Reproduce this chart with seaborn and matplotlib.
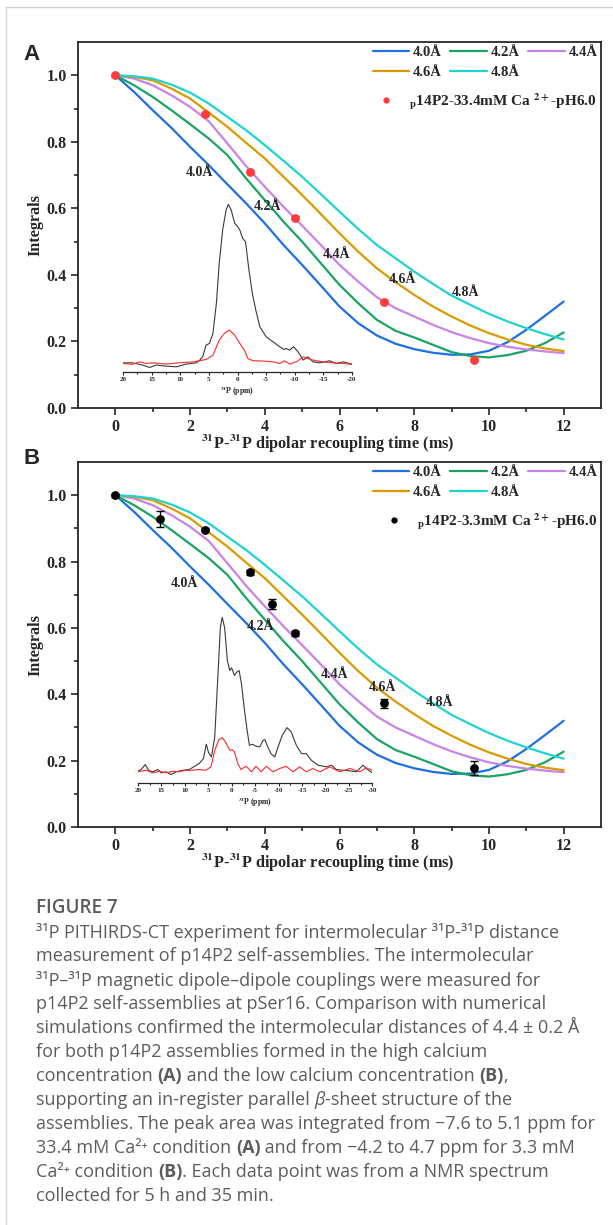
import matplotlib
matplotlib.use("Agg")
from matplotlib import pyplot as plt
from matplotlib.lines import Line2D
import seaborn as sns
import pandas as pd

# simulated PITHIRDS-CT curves, same in both panels
time_ms = [0, 0.5, 1, 1.5, 2, 2.5, 3, 3.5, 4, 4.5, 5, 5.5, 6, 6.5, 7, 7.5, 8, 8.5, 9, 9.5, 10, 10.5, 11, 11.5, 12]
curve_40 = [1.0, 0.95, 0.895, 0.842, 0.785, 0.73, 0.672, 0.615, 0.555, 0.49, 0.43, 0.368, 0.305, 0.255,
            0.218, 0.193, 0.177, 0.166, 0.16, 0.161, 0.172, 0.198, 0.235, 0.277, 0.32]
curve_42 = [1.0, 0.97, 0.935, 0.895, 0.853, 0.81, 0.76, 0.69, 0.625, 0.56, 0.5, 0.435, 0.37, 0.315,
            0.265, 0.232, 0.212, 0.19, 0.168, 0.156, 0.152, 0.159, 0.172, 0.195, 0.227]
curve_44 = [1.0, 0.99, 0.97, 0.94, 0.905, 0.862, 0.795, 0.727, 0.665, 0.605, 0.548, 0.49, 0.43, 0.38,
            0.333, 0.3, 0.275, 0.25, 0.228, 0.21, 0.195, 0.184, 0.176, 0.17, 0.165]
curve_46 = [1.0, 0.995, 0.985, 0.96, 0.93, 0.888, 0.845, 0.797, 0.75, 0.695, 0.64, 0.583, 0.525, 0.47,
            0.42, 0.378, 0.34, 0.305, 0.275, 0.248, 0.225, 0.206, 0.19, 0.179, 0.171]
curve_48 = [1.0, 0.997, 0.99, 0.972, 0.948, 0.915, 0.875, 0.835, 0.79, 0.743, 0.695, 0.643, 0.59, 0.538,
            0.49, 0.45, 0.41, 0.373, 0.338, 0.31, 0.283, 0.26, 0.24, 0.222, 0.206]
curve_names = ['4.0Å', '4.2Å', '4.4Å', '4.6Å', '4.8Å']
curve_colors = ['#1f6fe0', '#19a463', '#c983e8', '#dc9a00', '#1fd2d4']

# measured points
a_time = [0, 2.4, 3.6, 4.8, 7.2, 9.6]
a_integral = [1.0, 0.885, 0.71, 0.572, 0.32, 0.145]
a_err = [0.004, 0.004, 0.004, 0.004, 0.004, 0.004]
b_time = [0, 1.2, 2.4, 3.6, 4.2, 4.8, 7.2, 9.6]
b_integral = [1.0, 0.929, 0.896, 0.768, 0.672, 0.584, 0.373, 0.178]
b_err = [0.004, 0.024, 0.005, 0.008, 0.015, 0.008, 0.013, 0.02]

# curve label positions (time, integral)
a_label_pos = [(2.25, 0.708), (4.08, 0.605), (5.93, 0.462), (7.68, 0.387), (9.37, 0.347)]
b_label_pos = [(1.85, 0.734), (3.89, 0.604), (5.87, 0.459), (7.15, 0.421), (8.68, 0.376)]

# inset spectra (ppm, normalised intensity)
a_ppm_black = [20, 18.4, 16.6, 15.4, 14.2, 12.5, 10.7, 9.0, 7.2, 6.7, 6.1, 5.5, 4.9, 4.3, 3.7, 3.2, 2.6, 2.0,
               1.6, 1.1, 0.5, 0.05, -0.4, -0.9, -1.4, -2.0, -2.6, -3.2, -3.9, -5.0, -6.2, -7.4, -8.1, -8.5,
               -9.1, -9.8, -10.6, -11.5, -12.3, -13.2, -14.4, -16.1, -17.3, -18.5, -20]
a_int_black = [0.004, 0.004, -0.01, -0.025, -0.01, -0.017, -0.021, -0.004, 0.004, 0.017, 0.042, 0.115, 0.126,
               0.189, 0.377, 0.629, 0.839, 0.964, 1.0, 0.964, 0.881, 0.864, 0.839, 0.786, 0.765, 0.587, 0.44,
               0.335, 0.231, 0.168, 0.136, 0.105, 0.088, 0.094, 0.084, 0.105, 0.073, 0.021, 0.042, 0.01,
               0.004, 0.017, 0.0, 0.01, -0.004]
a_ppm_red = [20, 18.4, 17.2, 16.0, 14.8, 12.5, 10.2, 7.8, 6.7, 5.5, 4.3, 3.2, 2.3, 1.4, 0.5, -0.4, -1.2, -1.8,
             -2.7, -4.5, -6.2, -7.4, -8.2, -9.1, -10.3, -11.5, -12.3, -13.2, -14.9, -16.7, -18.5, -20]
a_int_red = [0.0, -0.006, 0.01, 0.0, 0.004, -0.004, 0.004, 0.01, 0.017, 0.025, 0.052, 0.147, 0.189, 0.21,
             0.178, 0.126, 0.084, 0.031, 0.017, 0.015, 0.01, 0.0, 0.017, -0.004, 0.01, 0.042, 0.031, 0.021,
             0.01, 0.004, 0.0, -0.006]
b_ppm_black = [20, 19.3, 18.4, 17.7, 16.8, 15.7, 15.0, 14.0, 12.9, 11.8, 10.4, 9.0, 7.9, 6.9, 6.0, 5.4, 4.9,
               4.3, 3.6, 2.9, 2.4, 2.0, 1.5, 0.9, 0.4, 0.0, -0.6, -1.1, -1.6, -2.1, -2.7, -3.3, -3.8, -4.5,
               -5.2, -6.0, -6.7, -7.1, -7.7, -8.4, -9.2, -9.9, -10.8, -11.8, -12.7, -13.8, -14.9, -15.9,
               -17.0, -18.4, -20.2, -21.3, -22.3, -23.7, -25.2, -26.6, -28.0, -28.7, -30]
b_int_black = [0.0, 0.011, 0.043, 0.006, -0.004, 0.011, -0.011, -0.004, -0.022, -0.004, 0.006, 0.011, 0.032,
               0.05, 0.082, 0.175, 0.119, 0.093, 0.222, 0.633, 0.935, 1.0, 0.935, 0.719, 0.654, 0.672, 0.622,
               0.644, 0.654, 0.568, 0.406, 0.266, 0.168, 0.175, 0.162, 0.158, 0.201, 0.205, 0.158, 0.114,
               0.093, 0.158, 0.233, 0.283, 0.255, 0.168, 0.114, 0.114, 0.071, 0.039, 0.028, 0.039, 0.011,
               0.006, 0.002, -0.004, 0.039, 0.017, -0.011]
b_ppm_red = [20, 18.2, 16.8, 15.4, 14.0, 12.6, 11.2, 9.8, 8.4, 7.0, 5.5, 4.4, 3.6, 2.7, 2.0, 1.3, 0.4, -0.1,
             -0.6, -1.3, -2.0, -3.1, -4.2, -5.2, -6.3, -7.4, -8.8, -10.2, -11.6, -13.1, -14.5, -15.9, -17.3,
             -18.8, -20.9, -23.0, -25.2, -27.3, -28.7, -30]
b_int_red = [-0.004, 0.006, -0.011, 0.0, -0.011, 0.0, -0.004, 0.006, 0.006, 0.011, 0.006, 0.028, 0.136, 0.205,
             0.218, 0.19, 0.136, 0.14, 0.125, 0.05, 0.011, 0.032, -0.004, 0.032, -0.004, 0.032, -0.004, 0.017,
             0.032, -0.004, 0.028, -0.004, 0.017, -0.004, 0.028, -0.004, 0.017, -0.004, 0.022, 0.006]
a_ppm_ticks = [20, 15, 10, 5, 0, -5, -10, -15, -20]
b_ppm_ticks = [20, 15, 10, 5, 0, -5, -10, -15, -20, -25, -30]

caption_title = 'FIGURE 7'
caption_lines = [
    [('³¹P PITHIRDS-CT experiment for intermolecular ³¹P-³¹P distance', 'normal', 'normal')],
    [('measurement of p14P2 self-assemblies. The intermolecular', 'normal', 'normal')],
    [('³¹P–³¹P magnetic dipole–dipole couplings were measured for', 'normal', 'normal')],
    [('p14P2 self-assemblies at pSer16. Comparison with numerical', 'normal', 'normal')],
    [('simulations confirmed the intermolecular distances of 4.4 ± 0.2 Å', 'normal', 'normal')],
    [('for both p14P2 assemblies formed in the high calcium', 'normal', 'normal')],
    [('concentration ', 'normal', 'normal'), ('(A)', 'bold', 'normal'),
     (' and the low calcium concentration ', 'normal', 'normal'), ('(B)', 'bold', 'normal'),
     (',', 'normal', 'normal')],
    [('supporting an in-register parallel ', 'normal', 'normal'), ('β', 'normal', 'italic'),
     ('-sheet structure of the', 'normal', 'normal')],
    [('assemblies. The peak area was integrated from −7.6 to 5.1 ppm for', 'normal', 'normal')],
    [('33.4 mM Ca²⁺ condition ', 'normal', 'normal'), ('(A)', 'bold', 'normal'),
     (' and from −4.2 to 4.7 ppm for 3.3 mM', 'normal', 'normal')],
    [('Ca²⁺ condition ', 'normal', 'normal'), ('(B)', 'bold', 'normal'),
     ('. Each data point was from a NMR spectrum', 'normal', 'normal')],
    [('collected for 5 h and 35 min.', 'normal', 'normal')],
]

sns.set_style('ticks')
plt.rcParams['font.family'] = ['Liberation Serif', 'DejaVu Serif']
plt.rcParams['font.weight'] = 'bold'
plt.rcParams['mathtext.fontset'] = 'stix'
plt.rcParams['axes.unicode_minus'] = False

W, H = 613, 1225
fig = plt.figure(figsize=(W / 100, H / 100), dpi=100)

curves = pd.DataFrame({'time': time_ms * 5,
                       'integral': curve_40 + curve_42 + curve_44 + curve_46 + curve_48,
                       'dist': [n for n in curve_names for _ in time_ms]})


def panel(top_px, bottom_px, letter, letter_y, pts_t, pts_v, pts_e, pt_color, pt_label, label_pos,
          ppm_k, int_k, ppm_r, int_r, ppm_ticks, inset_box):
    ax = fig.add_axes([78 / W, 1 - bottom_px / H, 523 / W, (bottom_px - top_px) / H])
    sns.lineplot(data=curves, x='time', y='integral', hue='dist', palette=curve_colors,
                 linewidth=1.6, ax=ax, legend=False)
    ax.errorbar(pts_t, pts_v, yerr=pts_e, fmt='none', ecolor=pt_color, elinewidth=1.0, capsize=3, zorder=4)
    sns.scatterplot(x=pts_t, y=pts_v, color=pt_color, s=40, edgecolor=pt_color, linewidth=0, ax=ax, zorder=5)
    ax.set_xlim(-1, 13)
    ax.set_ylim(0, 1.1)
    ax.set_xticks(range(0, 13, 2))
    ax.set_xticks(range(1, 13, 2), minor=True)
    ax.set_yticks([0, 0.2, 0.4, 0.6, 0.8, 1.0])
    ax.set_yticks([0.1, 0.3, 0.5, 0.7, 0.9], minor=True)
    ax.set_yticklabels(['0.0', '0.2', '0.4', '0.6', '0.8', '1.0'])
    ax.tick_params(which='major', length=5, width=1.2, labelsize=11.5, pad=3)
    ax.tick_params(which='minor', length=3, width=1.2)
    for s in ax.spines.values():
        s.set_linewidth(1.3)
        s.set_visible(True)
    ax.set_xlabel(r'$^{\mathbf{31}}$P-$^{\mathbf{31}}$P dipolar recoupling time (ms)', fontsize=11.7,
                  weight='bold')
    ax.xaxis.set_label_coords(0.478, -0.098)
    ax.xaxis.label.set_va('center')
    ax.set_ylabel('Integrals', fontsize=11.7, weight='bold')
    ax.yaxis.set_label_coords(-0.082, 0.5)
    ax.yaxis.label.set_va('center')
    for name, (lx, ly) in zip(curve_names, label_pos):
        ax.text(lx, ly, name, ha='center', va='center', fontsize=10, weight='bold')

    lines = ax.get_lines()[:5]
    order = [0, 3, 1, 4, 2]
    leg = ax.legend([lines[i] for i in order], [curve_names[i] for i in order], ncol=3, loc='upper right',
                    bbox_to_anchor=(1.004, 1.006), frameon=False, handlelength=2.5, handletextpad=0.25,
                    columnspacing=0.6, labelspacing=0.45, borderaxespad=0,
                    prop={'weight': 'bold', 'size': 10.5})
    ax.add_artist(leg)
    h = Line2D([], [], marker='o', ls='none', color=pt_color, markersize=3.5)
    ax.legend([h], [pt_label], loc='upper right', bbox_to_anchor=(1.004, 0.882), frameon=False,
              handletextpad=0.5, borderaxespad=0, prop={'weight': 'bold', 'size': 11})

    fig.text(32 / W, 1 - letter_y / H, letter, family='Liberation Sans', weight='bold', fontsize=16,
             ha='center', va='center')

    ins = ax.inset_axes(inset_box[:4], transform=ax.transData)
    ins.patch.set_alpha(0)
    sns.lineplot(x=ppm_k, y=int_k, color='#3a3a3a', linewidth=0.8, ax=ins)
    sns.lineplot(x=ppm_r, y=int_r, color='#ff2a2a', linewidth=0.8, ax=ins)
    ins.set_xlim(ppm_ticks[0], ppm_ticks[-1])
    ins.set_ylim(inset_box[4], 1.05)
    for k in ['left', 'right', 'top']:
        ins.spines[k].set_visible(False)
    ins.spines['bottom'].set_linewidth(0.9)
    ins.set_yticks([])
    ins.set_xticks(ppm_ticks)
    ins.set_xticks([p - 2.5 for p in ppm_ticks[:-1]], minor=True)
    ins.set_xticklabels([str(p) for p in ppm_ticks])
    ins.tick_params(which='major', length=2.5, width=0.8, labelsize=5, pad=1.5)
    ins.tick_params(which='minor', length=1.5, width=0.8)
    ins.set_xlabel(r'$^{\mathbf{31}}$P (ppm)', fontsize=5.5, weight='bold', labelpad=1.5)
    ins.set_ylabel('')
    return ax


panel(42, 408, 'A', 54, a_time, a_integral, a_err, '#ff3b3b',
      r'$_{\mathbf{p}}$14P2-33.4mM Ca $^{\mathbf{2+}}$-pH6.0', a_label_pos,
      a_ppm_black, a_int_black, a_ppm_red, a_int_red, a_ppm_ticks, (0.21, 0.109, 6.12, 0.527, -0.052))
panel(462, 827, 'B', 458, b_time, b_integral, b_err, 'black',
      r'$_{\mathbf{p}}$14P2-3.3mM Ca $^{\mathbf{2+}}$-pH6.0', b_label_pos,
      b_ppm_black, b_int_black, b_ppm_red, b_int_red, b_ppm_ticks, (0.60, 0.133, 6.28, 0.522, -0.076))

# page border lines of the screenshot
fig.add_artist(Line2D([6 / W, 1], [1 - 7 / H, 1 - 7 / H], color='#d4d4d4', lw=1))
fig.add_artist(Line2D([6 / W, 6 / W], [0, 1 - 7 / H], color='#d4d4d4', lw=1))

# caption
cap_font = ['Open Sans', 'DejaVu Sans']
cap_color = '#5c5c5c'
cap_size = 13.0
fig.text(36 / W, 1 - 908 / H, caption_title, family=cap_font, weight='semibold', fontsize=13.6,
         color=cap_color, va='center')
renderer = fig.canvas.get_renderer()
for i, parts in enumerate(caption_lines):
    x = 36 / W
    y = 1 - (932 + 24 * i) / H
    for text, w, st in parts:
        t = fig.text(x, y, text, family=cap_font, weight=w, style=st, fontsize=cap_size, color=cap_color,
                     va='center')
        x += t.get_window_extent(renderer).width / W

fig.savefig('out.png', dpi=100)
